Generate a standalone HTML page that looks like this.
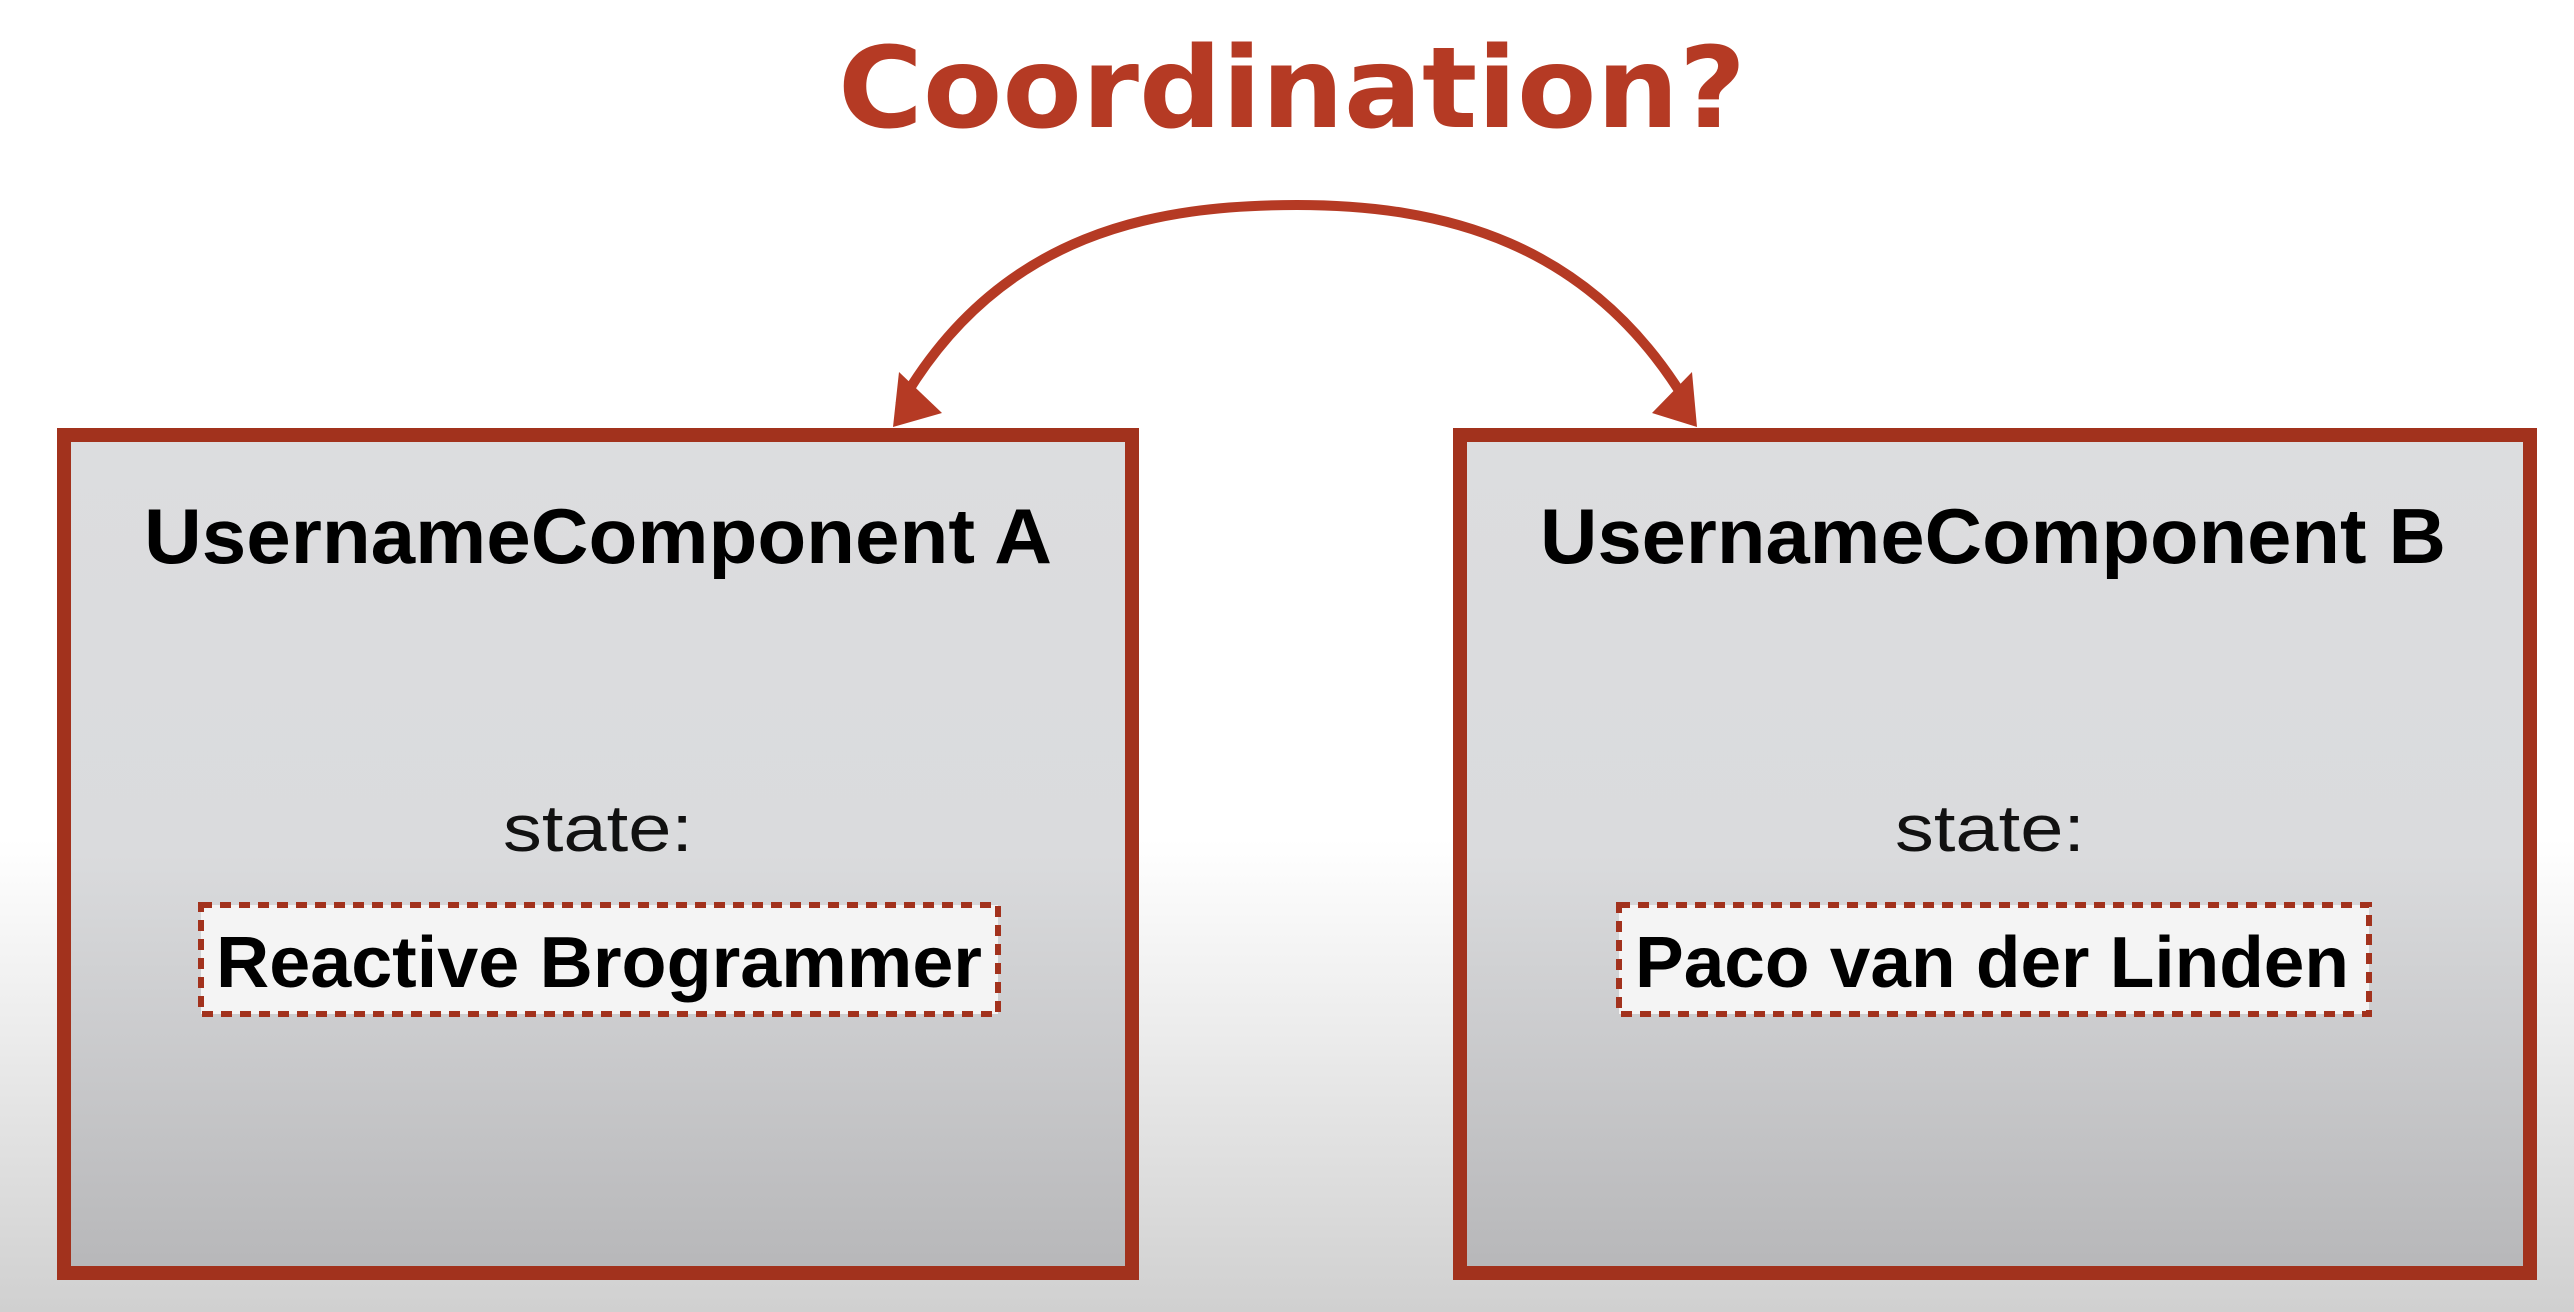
<!DOCTYPE html>
<html><head><meta charset="utf-8"><style>
html,body{margin:0;padding:0;width:2574px;height:1312px;overflow:hidden}
</style></head><body>
<svg width="2574" height="1312" viewBox="0 0 2574 1312" xmlns="http://www.w3.org/2000/svg">
<defs>
<linearGradient id="bg" x1="0" y1="0" x2="0" y2="1">
<stop offset="0" stop-color="#ffffff"/><stop offset="0.64" stop-color="#ffffff"/><stop offset="1" stop-color="#d0d0d0"/>
</linearGradient>
<linearGradient id="box" x1="0" y1="0" x2="0" y2="1">
<stop offset="0" stop-color="#dcdddf"/><stop offset="0.5" stop-color="#dadbdd"/><stop offset="1" stop-color="#b7b7b9"/>
</linearGradient>
</defs>
<rect width="2574" height="1312" fill="url(#bg)"/>
<rect x="64" y="435" width="1068" height="838" fill="url(#box)" stroke="#a2321d" stroke-width="14"/>
<rect x="1460" y="435" width="1070" height="838" fill="url(#box)" stroke="#a2321d" stroke-width="14"/>
<g font-family="Liberation Sans, sans-serif" text-anchor="middle">
<text x="598" y="563" font-size="78" font-weight="bold" textLength="908" lengthAdjust="spacingAndGlyphs">UsernameComponent A</text>
<text x="1993" y="563" font-size="78" font-weight="bold" textLength="906" lengthAdjust="spacingAndGlyphs">UsernameComponent B</text>
<text x="598" y="851" font-size="66" fill="#111" textLength="190" lengthAdjust="spacingAndGlyphs">state:</text>
<text x="1990" y="851" font-size="66" fill="#111" textLength="190" lengthAdjust="spacingAndGlyphs">state:</text>
</g>
<rect x="201" y="905" width="797" height="109" fill="#f4f4f4" stroke="#a2321d" stroke-width="6" stroke-dasharray="11,8"/>
<rect x="1619" y="905" width="750" height="109" fill="#f4f4f4" stroke="#a2321d" stroke-width="6" stroke-dasharray="11,8"/>
<g font-family="Liberation Sans, sans-serif" text-anchor="middle" font-weight="bold" font-size="72">
<text x="599" y="987" textLength="766" lengthAdjust="spacingAndGlyphs">Reactive Brogrammer</text>
<text x="1992" y="987" textLength="714" lengthAdjust="spacingAndGlyphs">Paco van der Linden</text>
</g>
<text x="1292" y="127" font-family="DejaVu Sans, sans-serif" font-weight="bold" font-size="112" fill="#b53a24" text-anchor="middle" textLength="908" lengthAdjust="spacingAndGlyphs">Coordination?</text>
<path d="M900,405 C1000,230 1160,205 1297,205 C1440,205 1590,240 1688,405" fill="none" stroke="#b53a24" stroke-width="10"/>
<polygon points="893,427 899,372 942,413" fill="#b53a24"/>
<polygon points="1697,427 1692,372 1652,413" fill="#b53a24"/>
</svg>
</body></html>
